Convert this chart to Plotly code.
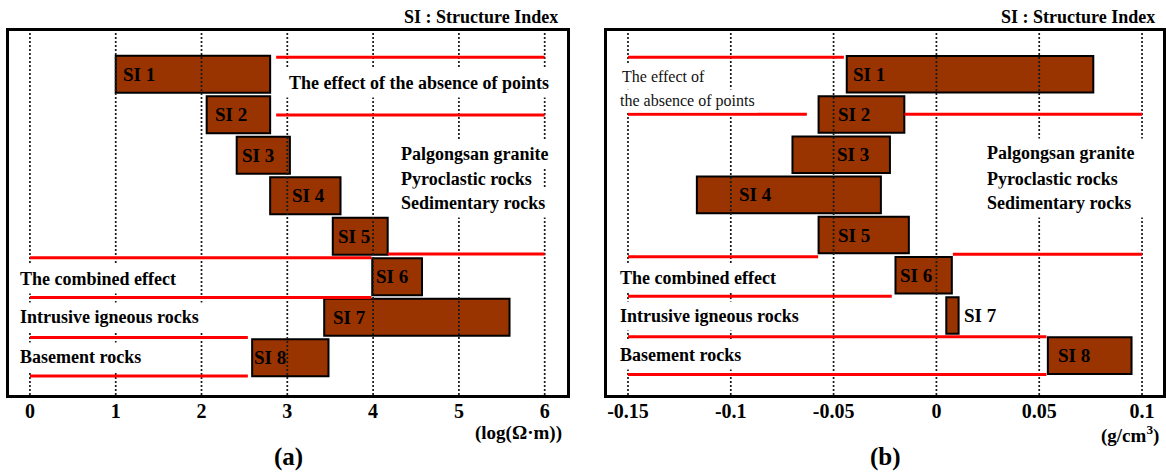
import plotly.graph_objects as go

# ---------------- data ----------------
si_labels = ["SI 1", "SI 2", "SI 3", "SI 4", "SI 5", "SI 6", "SI 7", "SI 8"]

# (a) resistivity ranges, log(ohm-m)
res_start = [1.00, 2.06, 2.41, 2.80, 3.53, 3.99, 3.43, 2.59]
res_end = [2.80, 2.80, 3.03, 3.62, 4.17, 4.57, 5.59, 3.48]

# (b) density contrast ranges, g/cm3
den_start = [-0.0436, -0.0573, -0.0700, -0.1165, -0.0573, -0.0199, 0.0048, 0.0542]
den_end = [0.0763, -0.0156, -0.0226, -0.0270, -0.0134, 0.0075, 0.0108, 0.0949]

res_ticks = [0, 1, 2, 3, 4, 5, 6]
res_ticktext = ["0", "1", "2", "3", "4", "5", "6"]
den_ticks = [-0.15, -0.1, -0.05, 0, 0.05, 0.1]
den_ticktext = ["-0.15", "-0.1", "-0.05", "0", "0.05", "0.1"]

# red group-boundary segments: row position, start, end
res_seg_row = [0.58, 2.005, 5.53, 5.44, 6.51, 7.50, 8.45]
res_seg_x0 = [2.87, 2.87, 0.0, 4.17, 0.0, 0.0, 0.0]
res_seg_x1 = [6.0, 6.0, 3.98, 6.0, 3.98, 2.54, 2.54]
den_seg_row = [0.577, 1.996, 1.996, 5.54, 5.48, 6.52, 7.53, 8.47]
den_seg_x0 = [-0.15, -0.15, -0.0155, -0.15, 0.008, -0.15, -0.15, -0.15]
den_seg_x1 = [-0.045, -0.063, 0.10, -0.0575, 0.10, -0.0217, 0.0535, 0.0535]

upper_group = ["Palgongsan granite", "Pyroclastic rocks", "Sedimentary rocks"]
lower_group = ["The combined effect", "Intrusive igneous rocks", "Basement rocks"]
absence_text = "The effect of the absence of points"
absence_lines_b = ["The effect of", "the absence of points"]

# ---------------- layout constants ----------------
W, H = 1166, 472
FONT = "Liberation Serif"
BROWN = "#993300"
RED = "#ff0000"
rows = list(range(1, len(si_labels) + 1))

YR_A = [8.92, -0.069]
YR_B = [8.98, -0.078]
XR_A = [-0.244, 6.26]
XR_B = [-0.1602, 0.1102]

label_shift_a = [5, 6, 3, 20, 3, 2, 7, 0]
label_shift_b = [4, 17, 43, 40, 17, 3, None, 8]

upper_rows_a = [2.96, 3.59, 4.19]
upper_rows_b = [2.97, 3.61, 4.21]
lower_rows_a = [6.05, 7.00, 7.97]
lower_rows_b = [6.06, 7.02, 7.99]


def px_x(p):
    return p / W


def px_y(p):
    return 1 - p / H


fig = go.Figure()

panels = [
    dict(xa="x", ya="y", start=res_start, end=res_end, ticks=res_ticks, yr=YR_A,
         seg_row=res_seg_row, seg_x0=res_seg_x0, seg_x1=res_seg_x1),
    dict(xa="x2", ya="y2", start=den_start, end=den_end, ticks=den_ticks, yr=YR_B,
         seg_row=den_seg_row, seg_x0=den_seg_x0, seg_x1=den_seg_x1),
]

for p in panels:
    # bars
    fig.add_trace(go.Bar(
        y=rows, x=[e - s for s, e in zip(p["start"], p["end"])], base=p["start"],
        orientation="h", width=0.91,
        marker=dict(color=BROWN, line=dict(color="black", width=2)),
        xaxis=p["xa"], yaxis=p["ya"], showlegend=False, hoverinfo="skip"))
    # dotted vertical grid lines (drawn above the bars)
    gx, gy = [], []
    for t in p["ticks"]:
        gx += [t, t, None]
        gy += [p["yr"][0], p["yr"][1], None]
    fig.add_trace(go.Scatter(
        x=gx, y=gy, mode="lines",
        line=dict(color="#1a1a1a", width=1.7, dash="2px,2px"),
        xaxis=p["xa"], yaxis=p["ya"], showlegend=False, hoverinfo="skip"))
    # red boundary lines
    rx, ry = [], []
    for r, a, b in zip(p["seg_row"], p["seg_x0"], p["seg_x1"]):
        rx += [a, b, None]
        ry += [r, r, None]
    fig.add_trace(go.Scatter(
        x=rx, y=ry, mode="lines", line=dict(color=RED, width=3),
        xaxis=p["xa"], yaxis=p["ya"], showlegend=False, hoverinfo="skip"))

ann = []
bold18 = dict(family=FONT, size=18, color="black", weight="bold")
bold19 = dict(family=FONT, size=19, color="black", weight="bold")
bold20 = dict(family=FONT, size=20, color="black", weight="bold")

# SI labels
for i, lab in enumerate(si_labels):
    ann.append(dict(x=res_start[i], y=rows[i], xref="x", yref="y", text=lab,
                    xanchor="left", xshift=label_shift_a[i], showarrow=False,
                    font=bold19))
    if label_shift_b[i] is None:
        ann.append(dict(x=den_end[i], y=rows[i], xref="x2", yref="y2", text=lab,
                        xanchor="left", xshift=3, showarrow=False, font=bold19))
    else:
        ann.append(dict(x=den_start[i], y=rows[i], xref="x2", yref="y2", text=lab,
                        xanchor="left", xshift=label_shift_b[i], showarrow=False,
                        font=bold19))

# group texts (white boxes hide grid lines)
box = dict(showarrow=False, bgcolor="white", borderpad=4, xanchor="left", font=bold18)
ann.append(dict(x=2.96, y=1.22, xref="x", yref="y", text=absence_text, **box))
for t, r in zip(upper_group, upper_rows_a):
    ann.append(dict(x=4.265, y=r, xref="x", yref="y", text=t, **box))
for t, r in zip(upper_group, upper_rows_b):
    ann.append(dict(x=0.022, y=r, xref="x2", yref="y2", text=t, width=168,
                    align="left", **box))
for t, r in zip(lower_group, lower_rows_a):
    ann.append(dict(x=-0.177, y=r, xref="x", yref="y", text=t, **box))
for t, r in zip(lower_group, lower_rows_b):
    ann.append(dict(x=-0.1565, y=r, xref="x2", yref="y2", text=t, **box))
for t, r, bp in zip(absence_lines_b, [1.06, 1.66], [4, 2]):
    ann.append(dict(x=-0.1552, y=r, xref="x2", yref="y2", text=t, showarrow=False,
                    bgcolor="white", borderpad=bp, xanchor="left",
                    font=dict(family=FONT, size=16, color="#111111")))

# titles / units / panel letters
for xr, text in [(560, "SI : Structure Index"), (1157, "SI : Structure Index")]:
    ann.append(dict(x=px_x(xr), y=px_y(17), xref="paper", yref="paper", text=text,
                    xanchor="right", yanchor="middle", showarrow=False, font=bold18))
ann.append(dict(x=px_x(564), y=px_y(433), xref="paper", yref="paper",
                text="(log(Ω·m))", xanchor="right", yanchor="middle",
                showarrow=False, font=bold19))
ann.append(dict(x=px_x(1161), y=px_y(434), xref="paper", yref="paper",
                text="(g/cm<sup>3</sup>)", xanchor="right", yanchor="middle",
                showarrow=False, font=bold19))
for xc, text in [(288, "(a)"), (885, "(b)")]:
    ann.append(dict(x=px_x(xc), y=px_y(457), xref="paper", yref="paper", text=text,
                    xanchor="center", yanchor="middle", showarrow=False,
                    font=dict(family=FONT, size=25, color="black", weight="bold")))

ydom = [px_y(395), px_y(31)]
axis_common = dict(showgrid=False, zeroline=False, showline=True, mirror=True,
                   linecolor="black", linewidth=3, ticks="", fixedrange=True)

fig.update_layout(
    width=W, height=H,
    margin=dict(l=0, r=0, t=0, b=0),
    paper_bgcolor="white", plot_bgcolor="white",
    showlegend=False,
    xaxis=dict(domain=[px_x(9), px_x(567)], range=XR_A, anchor="y",
               tickvals=res_ticks, ticktext=res_ticktext, tickfont=bold20,
               ticklabelstandoff=-4, **axis_common),
    yaxis=dict(domain=ydom, range=YR_A, anchor="x", showticklabels=False, **axis_common),
    xaxis2=dict(domain=[px_x(607), px_x(1163)], range=XR_B, anchor="y2",
                tickvals=den_ticks, ticktext=den_ticktext, tickfont=bold20,
                ticklabelstandoff=-4, **axis_common),
    yaxis2=dict(domain=ydom, range=YR_B, anchor="x2", showticklabels=False, **axis_common),
    annotations=ann,
)

fig.write_html("out.html")
